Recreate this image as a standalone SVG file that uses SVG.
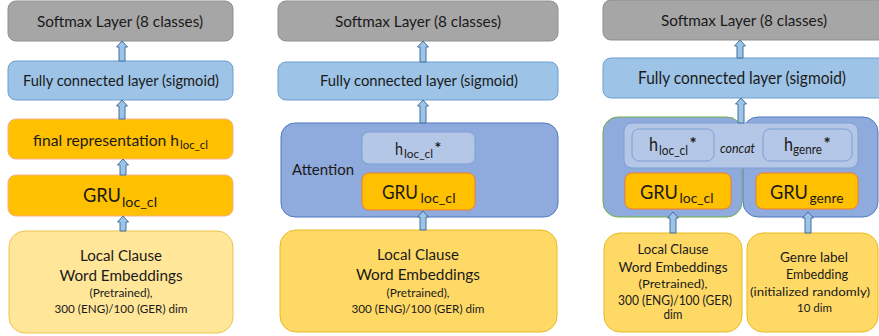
<svg xmlns="http://www.w3.org/2000/svg" width="879" height="336" viewBox="0 0 879 336">
<style>
text{font-family:Lato,"Open Sans","Liberation Sans",sans-serif;fill:#1a1a1a}
.c{text-anchor:middle}
.soft{fill:#a6a6a6;stroke:#8f8f8f;stroke-width:1}
.fc{fill:#9dc3e6;stroke:#6a9fd0;stroke-width:1}
.or1{fill:#ffc000;stroke:#f4b183;stroke-width:1}
.or2{fill:#ffc000;stroke:#ed7d31;stroke-width:1}
.att{fill:#8faadc;stroke:#4f78c4;stroke-width:1}
.attg{fill:#8faadc;stroke:#70ad47;stroke-width:1}
.hb{fill:#b4c7e7;stroke:#7f9fd6;stroke-width:1}
.emb1{fill:#ffe699;stroke:#ecc44a;stroke-width:1}
.emb2{fill:#ffd966;stroke:#e8b923;stroke-width:1}
.arr{fill:#9dc3e6;stroke:#41719c;stroke-width:1}
.ast{font-weight:bold}
</style>
<g id="p1-softmax"><rect class="soft" x="8" y="1" width="225" height="40" rx="8"/><text class="c" x="120" y="27" font-size="16" textLength="166" lengthAdjust="spacingAndGlyphs">Softmax Layer (8 classes)</text></g>
<g id="p1-fc"><rect class="fc" x="8" y="61" width="225" height="39" rx="8"/><text class="c" x="121" y="86" font-size="16" textLength="196" lengthAdjust="spacingAndGlyphs">Fully connected layer (sigmoid)</text></g>
<g id="p1-final"><rect class="or1" x="8" y="119" width="225" height="40" rx="8"/><text x="33" y="145.5" font-size="16" textLength="146" lengthAdjust="spacingAndGlyphs">final representation h</text><text x="180" y="149" font-size="11" textLength="28" lengthAdjust="spacingAndGlyphs">loc_cl</text></g>
<g id="p1-gru"><rect class="or1" x="8" y="175" width="225" height="41" rx="8"/><text x="83" y="202" font-size="20" textLength="38" lengthAdjust="spacingAndGlyphs">GRU</text><text x="122" y="207" font-size="13" textLength="35" lengthAdjust="spacingAndGlyphs">loc_cl</text></g>
<g id="p1-emb"><rect class="emb1" x="9" y="231" width="224" height="102" rx="16"/>
<text class="c" x="121" y="261" font-size="14.5" textLength="82" lengthAdjust="spacingAndGlyphs">Local Clause</text>
<text class="c" x="121" y="281" font-size="14.5" textLength="123" lengthAdjust="spacingAndGlyphs">Word Embeddings</text>
<text class="c" x="121" y="297" font-size="11.5" textLength="63" lengthAdjust="spacingAndGlyphs">(Pretrained),</text>
<text class="c" x="121" y="313" font-size="11.5" textLength="133" lengthAdjust="spacingAndGlyphs">300 (ENG)/100 (GER) dim</text></g>

<g id="p2-softmax"><rect class="soft" x="278" y="1" width="280" height="40" rx="8"/><text class="c" x="418" y="27" font-size="16" textLength="166" lengthAdjust="spacingAndGlyphs">Softmax Layer (8 classes)</text></g>
<g id="p2-fc"><rect class="fc" x="278" y="62" width="280" height="38" rx="8"/><text class="c" x="419" y="86" font-size="16" textLength="198" lengthAdjust="spacingAndGlyphs">Fully connected layer (sigmoid)</text></g>
<g id="p2-attention"><rect class="att" x="281" y="123" width="277" height="94" rx="14"/><text x="292" y="175" font-size="16" textLength="62" lengthAdjust="spacingAndGlyphs">Attention</text></g>
<g id="p2-h"><rect class="hb" x="362" y="132" width="113" height="32" rx="7"/><text x="395" y="155" font-size="18" textLength="8" lengthAdjust="spacingAndGlyphs">h</text><text x="404" y="157.5" font-size="12" textLength="29" lengthAdjust="spacingAndGlyphs">loc_cl</text><text class="ast" x="434.5" y="153" font-size="16">*</text></g>
<g id="p2-gru"><rect class="or2" x="362" y="173" width="113" height="37" rx="7"/><text x="382" y="198.5" font-size="20" textLength="36" lengthAdjust="spacingAndGlyphs">GRU</text><text x="420.5" y="203" font-size="13" textLength="35" lengthAdjust="spacingAndGlyphs">loc_cl</text></g>
<g id="p2-emb"><rect class="emb2" x="280" y="230" width="277" height="102" rx="16"/>
<text class="c" x="418" y="260" font-size="14.5" textLength="82" lengthAdjust="spacingAndGlyphs">Local Clause</text>
<text class="c" x="418" y="280" font-size="14.5" textLength="124" lengthAdjust="spacingAndGlyphs">Word Embeddings</text>
<text class="c" x="418" y="297" font-size="11.5" textLength="63" lengthAdjust="spacingAndGlyphs">(Pretrained),</text>
<text class="c" x="418" y="313" font-size="11.5" textLength="133" lengthAdjust="spacingAndGlyphs">300 (ENG)/100 (GER) dim</text></g>

<g id="p3-softmax"><rect class="soft" x="603" y="0" width="290" height="40" rx="8"/><text class="c" x="744" y="26" font-size="16" textLength="166" lengthAdjust="spacingAndGlyphs">Softmax Layer (8 classes)</text></g>
<g id="p3-fc"><rect class="fc" x="603" y="58" width="290" height="40" rx="8"/><text class="c" x="742" y="84" font-size="17" textLength="208" lengthAdjust="spacingAndGlyphs">Fully connected layer (sigmoid)</text></g>
<g id="p3-attention-loc"><rect class="attg" x="603" y="117" width="139" height="100" rx="15"/></g>
<g id="p3-attention-genre"><rect class="att" x="743" y="117" width="135" height="100" rx="15"/></g>
<g id="p3-concat"><rect class="hb" x="624" y="123" width="234" height="45" rx="8"/><text x="720" y="153" font-size="13" font-style="italic" textLength="35" lengthAdjust="spacingAndGlyphs">concat</text></g>
<g id="p3-h-loc"><rect class="hb" x="632" y="129" width="82" height="32" rx="7"/><text x="649" y="151" font-size="19" textLength="9" lengthAdjust="spacingAndGlyphs">h</text><text x="659" y="155" font-size="13" textLength="29" lengthAdjust="spacingAndGlyphs">loc_cl</text><text class="ast" x="689.5" y="150" font-size="17">*</text></g>
<g id="p3-h-genre"><rect class="hb" x="763" y="129" width="89" height="32" rx="7"/><text x="784" y="151" font-size="19" textLength="9" lengthAdjust="spacingAndGlyphs">h</text><text x="793" y="154" font-size="13" textLength="29" lengthAdjust="spacingAndGlyphs">genre</text><text class="ast" x="823.5" y="150" font-size="17">*</text></g>
<g id="p3-gru-loc"><rect class="or2" x="625" y="173" width="106" height="36" rx="7"/><text x="640" y="198.5" font-size="20" textLength="38" lengthAdjust="spacingAndGlyphs">GRU</text><text x="679.5" y="203" font-size="13" textLength="34" lengthAdjust="spacingAndGlyphs">loc_cl</text></g>
<g id="p3-gru-genre"><rect class="or2" x="756" y="173" width="102" height="36" rx="7"/><text x="770" y="198.5" font-size="20" textLength="38" lengthAdjust="spacingAndGlyphs">GRU</text><text x="809.5" y="203" font-size="13" textLength="34" lengthAdjust="spacingAndGlyphs">genre</text></g>
<g id="p3-emb-loc"><rect class="emb2" x="604" y="233" width="138" height="99" rx="16"/>
<text class="c" x="673" y="254" font-size="13.5" textLength="71" lengthAdjust="spacingAndGlyphs">Local Clause</text>
<text class="c" x="673" y="272" font-size="13.5" textLength="109" lengthAdjust="spacingAndGlyphs">Word Embeddings</text>
<text class="c" x="673" y="288" font-size="12" textLength="69" lengthAdjust="spacingAndGlyphs">(Pretrained),</text>
<text class="c" x="675" y="305" font-size="12.5" textLength="114" lengthAdjust="spacingAndGlyphs">300 (ENG)/100 (GER)</text>
<text class="c" x="673" y="319" font-size="12.5" textLength="19" lengthAdjust="spacingAndGlyphs">dim</text></g>
<g id="p3-emb-genre"><rect class="emb2" x="747" y="233" width="131" height="99" rx="16"/>
<text class="c" x="814" y="262" font-size="13.5" textLength="68" lengthAdjust="spacingAndGlyphs">Genre label</text>
<text class="c" x="817" y="279" font-size="13.5" textLength="62" lengthAdjust="spacingAndGlyphs">Embedding</text>
<text class="c" x="810" y="296" font-size="12" textLength="120" lengthAdjust="spacingAndGlyphs">(initialized randomly)</text>
<text class="c" x="814.5" y="312" font-size="12" textLength="35" lengthAdjust="spacingAndGlyphs">10 dim</text></g>

<g id="connectors">
<path class="arr" d="M122,41 L127.5,47 L125,47 L125,61 L119,61 L119,47 L116.5,47 Z"/>
<path class="arr" d="M122,100 L127.5,106 L125,106 L125,119 L119,119 L119,106 L116.5,106 Z"/>
<path class="arr" d="M123,159 L128.5,165 L126,165 L126,175 L120,175 L120,165 L117.5,165 Z"/>
<path class="arr" d="M123,216 L128.5,222 L126,222 L126,231 L120,231 L120,222 L117.5,222 Z"/>
<path class="arr" d="M423,41 L428.5,47 L426,47 L426,62 L420,62 L420,47 L417.5,47 Z"/>
<path class="arr" d="M423,100 L428.5,106 L426,106 L426,123 L420,123 L420,106 L417.5,106 Z"/>
<path class="arr" d="M423,211 L428.5,217 L426,217 L426,230 L420,230 L420,217 L417.5,217 Z"/>
<path class="arr" d="M740,40 L745.5,46 L743,46 L743,58 L737,58 L737,46 L734.5,46 Z"/>
<path class="arr" d="M741,98 L746.5,104 L744,104 L744,123 L738,123 L738,104 L735.5,104 Z"/>
<path class="arr" d="M673,212 L678.5,218 L676,218 L676,233 L670,233 L670,218 L667.5,218 Z"/>
<path class="arr" d="M808,212 L813.5,218 L811,218 L811,233 L805,233 L805,218 L802.5,218 Z"/>
</g>
</svg>
